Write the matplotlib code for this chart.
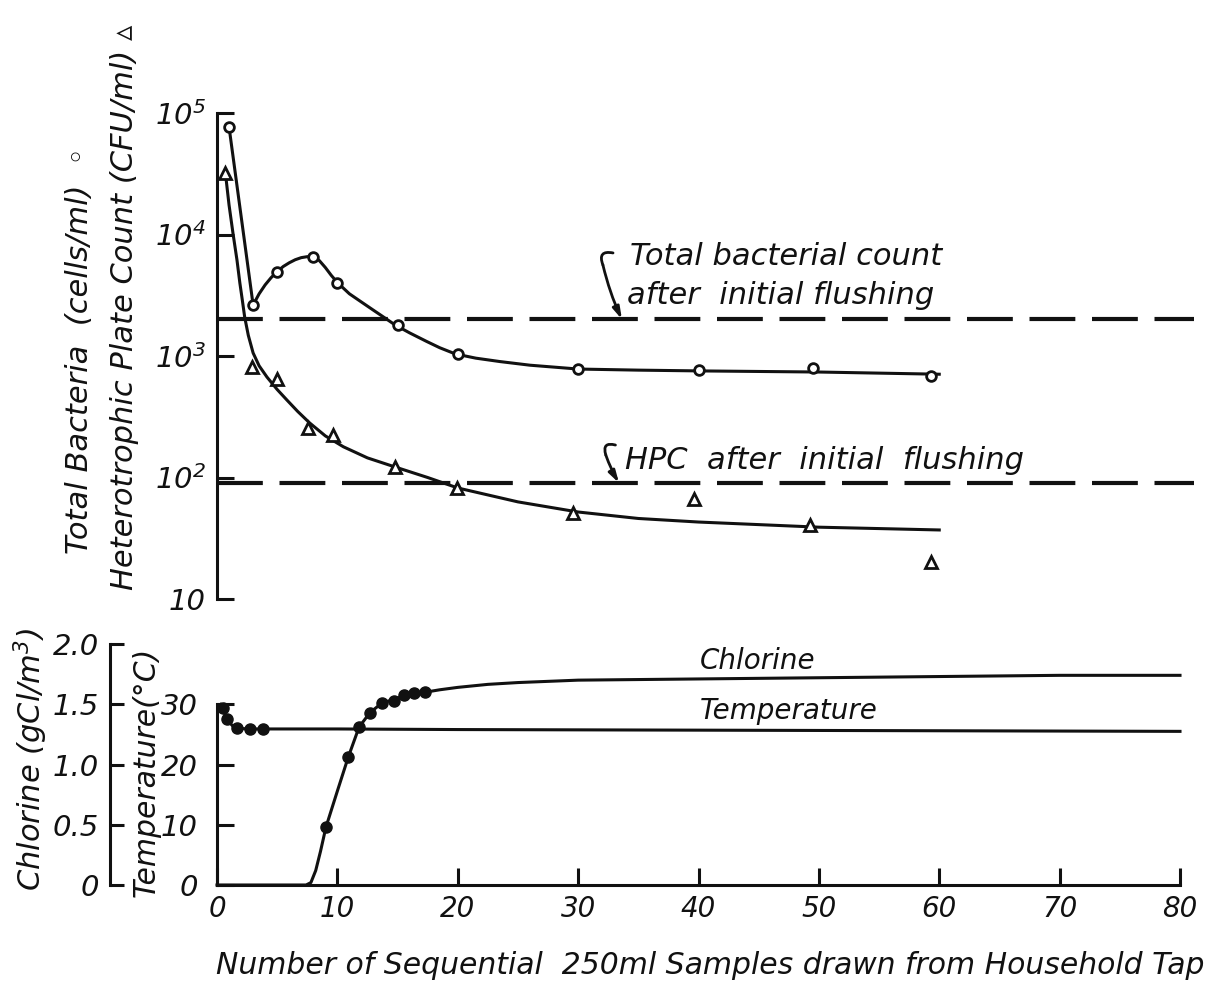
import matplotlib
matplotlib.use("Agg")
import matplotlib.pyplot as plt
from matplotlib.ticker import FixedLocator, NullLocator

plt.rcParams.update({
    "font.family": ["DejaVu Sans"],
    "font.style": "italic",
    "mathtext.fontset": "custom",
    "mathtext.rm": "DejaVu Sans:italic",
    "mathtext.it": "DejaVu Sans:italic",
    "mathtext.bf": "DejaVu Sans:italic",
})

# ---------------- data ----------------
# Total bacteria (cells/ml), open circles
tb_x = [1, 3, 5, 8, 10, 15, 20, 30, 40, 49.5, 59.3]
tb_y = [76800, 2630, 4900, 6530, 3980, 1800, 1040, 780, 765, 800, 685]
# fitted curve drawn through total bacteria
tb_curve_x = [1, 3, 3.5, 4, 4.5, 5, 5.5, 6, 6.5, 7, 7.5, 8.05, 8.5, 9, 9.5, 10.05,
              11, 12, 13, 14, 14.8, 16, 17.4, 18.5, 19.8, 21.5, 23.5, 26, 30, 35, 40, 50, 60]
tb_curve_y = [76800, 2630, 3250, 3850, 4420, 4950, 5450, 5850, 6200, 6450, 6570, 6530, 6100,
              5350, 4600, 3980, 3250, 2780, 2380, 2040, 1800, 1550, 1320, 1170, 1040, 960,
              900, 840, 781, 765, 754, 738, 708]

# Heterotrophic plate count (CFU/ml), open triangles
hpc_x = [0.7, 2.9, 5, 7.6, 9.6, 14.8, 19.9, 29.6, 39.6, 49.3, 59.3]
hpc_y = [32000, 815, 650, 257, 225, 122, 82, 51, 66, 41, 20]
hpc_curve_x = [0.7, 1.0, 1.33, 1.66, 1.9, 2.1, 2.3, 2.6, 3.0, 3.5, 4.15, 5.0, 5.8, 6.7, 7.7,
               9.0, 10.5, 12.5, 14.8, 17.5, 20, 25, 30, 35, 40, 50, 60]
hpc_curve_y = [32000, 17500, 10200, 6160, 3980, 2900, 2090, 1480, 1060, 830, 671, 530, 435,
               350, 281, 220, 179, 145, 122, 100, 82, 63, 52, 46, 43, 39, 37]

total_after_flush = 2000
hpc_after_flush = 90

# Chlorine (gCl/m3), filled circles
cl_x = [9.05, 10.9, 11.8, 12.7, 13.7, 14.7, 15.5, 16.4, 17.3]
cl_y = [0.48, 1.06, 1.31, 1.43, 1.51, 1.53, 1.58, 1.59, 1.60]
cl_curve_x = [0, 7.4, 7.8, 8.2, 8.6, 9.05, 10, 10.9, 11.8, 12.7, 13.7, 14.7, 15.5, 16.4,
              17.3, 18.5, 20, 22.5, 25, 30, 40, 50, 60, 70, 80]
cl_curve_y = [0, 0, 0.02, 0.12, 0.28, 0.48, 0.78, 1.06, 1.31, 1.43, 1.51, 1.54, 1.57, 1.59,
              1.60, 1.62, 1.64, 1.665, 1.68, 1.70, 1.71, 1.72, 1.73, 1.74, 1.74]

# Temperature (deg C), filled circles
t_x = [0.5, 0.8, 1.7, 2.7, 3.8]
t_y = [29.3, 27.5, 26.0, 25.9, 25.9]
t_curve_x = [0.3, 0.5, 0.8, 1.3, 1.7, 2.7, 3.8, 10, 20, 40, 60, 80]
t_curve_y = [30, 29.3, 27.5, 26.4, 26.0, 25.9, 25.9, 25.9, 25.8, 25.7, 25.6, 25.5]

x_ticks = [0, 10, 20, 30, 40, 50, 60, 70, 80]
log_ticks = [10, 100, 1000, 10000, 100000]
log_labels = ["10", "$10^2$", "$10^3$", "$10^4$", "$10^5$"]
cl_ticks = [0, 0.5, 1.0, 1.5, 2.0]
cl_labels = ["0", "0.5", "1.0", "1.5", "2.0"]
t_ticks = [0, 10, 20, 30]
t_labels = ["0", "10", "20", "30"]

# ---------------- figure ----------------
W, H = 1214, 985
fig = plt.figure(figsize=(W / 100, H / 100), dpi=100)
fig.patch.set_facecolor("white")
K = "#111111"
LW = 2.2
FS = 20

# ----- top panel -----
ax = fig.add_axes([217 / W, 1 - 599 / H, 963 / W, 486 / H])
ax.set_yscale("log")
ax.set_xlim(0, 80)
ax.set_ylim(10, 1e5)
for s in ("top", "right", "bottom"):
    ax.spines[s].set_visible(False)
ax.spines["left"].set_linewidth(LW)
ax.spines["left"].set_color(K)
ax.xaxis.set_major_locator(NullLocator())
ax.yaxis.set_major_locator(FixedLocator(log_ticks))
ax.yaxis.set_minor_locator(NullLocator())
ax.set_yticklabels(log_labels)
ax.tick_params(axis="y", direction="in", length=12, width=LW, pad=8,
               labelsize=21, colors=K)
ax.patch.set_alpha(0)

ax.plot(tb_curve_x, tb_curve_y, color=K, lw=LW, zorder=2)
ax.plot(hpc_curve_x, hpc_curve_y, color=K, lw=LW, zorder=2)
ax.plot(tb_x, tb_y, "o", ms=7, mfc="white", mec=K, mew=2, zorder=3)
ax.plot(hpc_x, hpc_y, "^", ms=8, mfc="white", mec=K, mew=2, zorder=3)

dash = (0, (11, 4))
ax.axhline(total_after_flush, xmin=0, xmax=81.2 / 80, color=K, lw=3,
           ls=dash, clip_on=False, zorder=1)
ax.axhline(hpc_after_flush, xmin=0, xmax=81.2 / 80, color=K, lw=3,
           ls=dash, clip_on=False, zorder=1)

ax.text(34.3, 6530, "Total bacterial count", fontsize=22, color=K,
        ha="left", va="center")
ax.text(34.1, 3120, "after  initial flushing", fontsize=22, color=K,
        ha="left", va="center")
ax.text(33.9, 139, "HPC  after  initial  flushing", fontsize=22, color=K,
        ha="left", va="center")

arrow = dict(arrowstyle="-|>,head_length=0.7,head_width=0.2", lw=2,
             color=K, connectionstyle="arc3,rad=0.05", shrinkA=0, shrinkB=0)
curl = dict(arrowstyle="-", lw=2, color=K,
            connectionstyle="arc3,rad=-0.9", shrinkA=0, shrinkB=0)
ax.annotate("", xy=(33.64, total_after_flush), xytext=(32.06, 5610),
            arrowprops=arrow)
ax.annotate("", xy=(32.9, 7050), xytext=(32.06, 5610), arrowprops=curl)
ax.annotate("", xy=(33.4, hpc_after_flush), xytext=(32.3, 153),
            arrowprops=arrow)
ax.annotate("", xy=(33.1, 185), xytext=(32.3, 153), arrowprops=curl)

fig.text(80 / W, 1 - 350 / H, "Total Bacteria  (cells/ml)  \u25e6",
         rotation=90, ha="center", va="center", fontsize=22, color=K)
fig.text(125 / W, 1 - 307 / H, "Heterotrophic Plate Count (CFU/ml) \u25b5",
         rotation=90, ha="center", va="center", fontsize=22, color=K)

# ----- bottom panel -----
axb = fig.add_axes([217 / W, 1 - 885 / H, 963 / W, 241 / H])
axb.set_xlim(0, 80)
axb.set_ylim(0, 2.0)
axb.patch.set_alpha(0)
for s in ("top", "right"):
    axb.spines[s].set_visible(False)
axb.spines["left"].set_position(("outward", 77))
axb.spines["left"].set_bounds(0, 2.0)
axb.spines["bottom"].set_bounds(0, 80)
for s in ("left", "bottom"):
    axb.spines[s].set_linewidth(LW)
    axb.spines[s].set_color(K)
axb.set_xticks(x_ticks)
axb.set_xticklabels([str(v) for v in x_ticks])
axb.set_yticks(cl_ticks)
axb.set_yticklabels(cl_labels)
axb.tick_params(axis="x", direction="in", length=12, width=LW, pad=7,
                labelsize=FS, colors=K)
axb.tick_params(axis="y", direction="in", length=10, width=LW, pad=8,
                labelsize=21, colors=K)
axb.set_ylabel("Chlorine (gCl/m$^3$)", fontsize=22, color=K)
axb.yaxis.set_label_coords((50 - 217) / 963, 0.52)

axt = axb.twinx()
axt.set_ylim(0, 40)
axt.patch.set_alpha(0)
for s in ("top", "right", "bottom"):
    axt.spines[s].set_visible(False)
axt.spines["left"].set_visible(True)
axt.spines["left"].set_position(("axes", 0))
axt.spines["left"].set_bounds(0, 30)
axt.spines["left"].set_linewidth(LW)
axt.spines["left"].set_color(K)
axt.yaxis.tick_left()
axt.yaxis.set_label_position("left")
axt.set_yticks(t_ticks)
axt.set_yticklabels(t_labels)
axt.tick_params(axis="y", direction="in", length=12, width=LW, pad=14,
                labelsize=21, colors=K)
axt.set_ylabel("Temperature(\u00b0C)", fontsize=21.5, color=K)
axt.yaxis.set_label_coords((161 - 217) / 963, 0.47)

axb.plot(cl_curve_x, cl_curve_y, color=K, lw=LW, zorder=2, clip_on=False)
axb.plot(cl_x, cl_y, "o", ms=8, color=K, zorder=3, clip_on=False)
axt.plot(t_curve_x, t_curve_y, color=K, lw=LW, zorder=2, clip_on=False)
axt.plot(t_x, t_y, "o", ms=8, color=K, zorder=3, clip_on=False)

axb.text(40.1, 1.86, "Chlorine", fontsize=FS, color=K, ha="left", va="center")
axb.text(40.1, 1.444, "Temperature", fontsize=FS, color=K, ha="left", va="center")

fig.text(710 / W, 1 - 965 / H,
         "Number of Sequential  250ml Samples drawn from Household Tap",
         ha="center", va="center", fontsize=21.5, color=K)

fig.savefig("out.png", dpi=100, facecolor="white")
